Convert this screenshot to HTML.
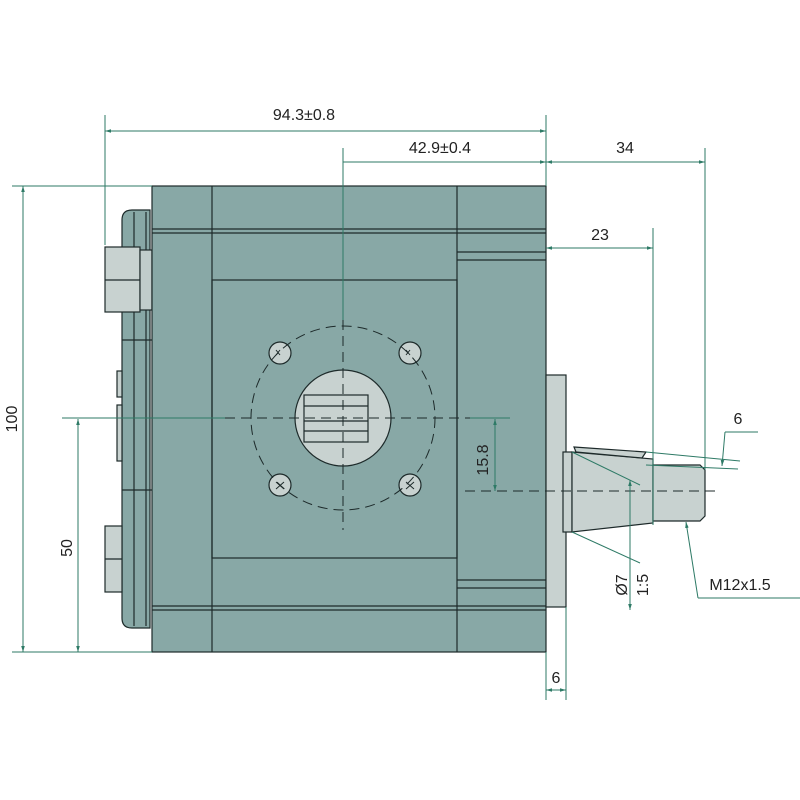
<!DOCTYPE html>
<html><head><style>body{margin:0;background:#fff}svg{display:block}text{font-family:"Liberation Sans",sans-serif;fill:#222}</style></head><body>
<svg width="800" height="800" viewBox="0 0 800 800" xmlns="http://www.w3.org/2000/svg">
<defs><marker id="a" viewBox="0 0 10 10" refX="10" refY="5" markerWidth="6" markerHeight="6" orient="auto-start-reverse"><path d="M0,2L10,5L0,8z" fill="#2e7a66"/></marker></defs>
<g stroke="#1d2a2a" stroke-width="1.2" fill="#88a8a6">
<!-- end cap -->
<path d="M132,210 H150 V628 H132 Q122,628 122,618 V220 Q122,210 132,210Z"/>
<line x1="134" y1="212" x2="134" y2="626"/><line x1="146" y1="212" x2="146" y2="626"/>
<line x1="122" y1="340" x2="152" y2="340"/><line x1="122" y1="490" x2="152" y2="490"/>
<rect x="105" y="247" width="35" height="65" fill="#c8d2d0"/><line x1="105" y1="280" x2="140" y2="280"/>
<rect x="140" y="250" width="12" height="60" fill="#c0cccb"/>
<rect x="105" y="526" width="17" height="66" fill="#c8d2d0"/><line x1="105" y1="559" x2="122" y2="559"/>
<rect x="117" y="371" width="5" height="26" fill="#c8d2d0"/><rect x="117" y="405" width="5" height="56" fill="#c8d2d0"/>
<!-- body -->
<rect x="152" y="186" width="394" height="466"/>
<line x1="212" y1="186" x2="212" y2="652"/><line x1="457" y1="186" x2="457" y2="652"/>
<line x1="152" y1="229" x2="546" y2="229"/><line x1="152" y1="233" x2="546" y2="233"/>
<line x1="152" y1="606" x2="546" y2="606"/><line x1="152" y1="610" x2="546" y2="610"/>
<rect x="212" y="280" width="245" height="278" fill="none"/>
<line x1="457" y1="252" x2="546" y2="252"/><line x1="457" y1="260" x2="546" y2="260"/>
<line x1="457" y1="580" x2="546" y2="580"/><line x1="457" y1="588" x2="546" y2="588"/>
<!-- flange & shaft -->
<rect x="546" y="375" width="20" height="232" fill="#c8d2d0"/>
<rect x="563" y="452" width="9" height="80" fill="#c8d2d0"/>
<path d="M572,452 L653,459 L653,523 L572,532Z" fill="#c8d2d0"/>
<path d="M574,447 L646,452 L642,458 L576,452Z" fill="#c8d2d0"/>
<path d="M653,465 H700 L705,470 V516 L700,521 H653Z" fill="#c8d2d0"/>
<!-- center features -->
<circle cx="343" cy="418" r="48" fill="#c8d2d0"/>
<rect x="304" y="395" width="64" height="47" fill="none"/><line x1="304" y1="406" x2="368" y2="406"/><line x1="304" y1="421" x2="368" y2="421"/><line x1="304" y1="431" x2="368" y2="431"/>
<circle cx="280" cy="353" r="11" fill="#c8d2d0"/><circle cx="410" cy="353" r="11" fill="#c8d2d0"/>
<circle cx="280" cy="485" r="11" fill="#c8d2d0"/><circle cx="410" cy="485" r="11" fill="#c8d2d0"/>
</g>
<g stroke="#1d2a2a" stroke-width="1" fill="none">
<circle cx="343" cy="418" r="92" stroke-dasharray="10,6"/>
<line x1="343" y1="320" x2="343" y2="530" stroke-dasharray="10,6"/>
<line x1="225" y1="418" x2="470" y2="418" stroke-dasharray="10,6"/>
<line x1="465" y1="491" x2="720" y2="491" stroke-dasharray="10,6"/>
<path d="M276,355l4,-5M276,350l4,5M406,355l4,-5M406,350l4,5M276,482l8,7M284,482l-8,7M406,482l8,7M414,482l-8,7"/>
</g>
<g stroke="#2e7a66" stroke-width="1" fill="none">
<line x1="105" y1="115" x2="105" y2="245"/><line x1="546" y1="115" x2="546" y2="186"/>
<line x1="105" y1="131" x2="546" y2="131" marker-start="url(#a)" marker-end="url(#a)"/>
<line x1="343" y1="148" x2="343" y2="320"/>
<line x1="343" y1="162" x2="546" y2="162" marker-end="url(#a)"/>
<line x1="546" y1="162" x2="705" y2="162" marker-start="url(#a)" marker-end="url(#a)"/>
<line x1="705" y1="148" x2="705" y2="470"/>
<line x1="546" y1="248" x2="653" y2="248" marker-start="url(#a)" marker-end="url(#a)"/>
<line x1="653" y1="228" x2="653" y2="525"/>
<line x1="12" y1="186" x2="152" y2="186"/><line x1="12" y1="652" x2="152" y2="652"/>
<line x1="23" y1="186" x2="23" y2="652" marker-start="url(#a)" marker-end="url(#a)"/>
<line x1="62" y1="418" x2="225" y2="418"/><line x1="470" y1="418" x2="510" y2="418"/>
<line x1="78" y1="419" x2="78" y2="652" marker-start="url(#a)" marker-end="url(#a)"/>
<line x1="495" y1="419" x2="495" y2="491" marker-start="url(#a)" marker-end="url(#a)"/>
<line x1="546" y1="652" x2="546" y2="700"/><line x1="566" y1="607" x2="566" y2="700"/>
<line x1="546" y1="690" x2="566" y2="690" marker-start="url(#a)" marker-end="url(#a)"/>
<line x1="572" y1="452" x2="640" y2="485"/><line x1="572" y1="532" x2="640" y2="563"/>
<line x1="630" y1="480" x2="630" y2="610" marker-start="url(#a)" marker-end="url(#a)"/>
<line x1="646" y1="452" x2="740" y2="461"/><line x1="646" y1="465" x2="738" y2="469"/>
<line x1="725" y1="432" x2="758" y2="432"/><line x1="725" y1="432" x2="722" y2="466" marker-end="url(#a)"/>
<line x1="686" y1="522" x2="698" y2="598" marker-start="url(#a)"/><line x1="698" y1="598" x2="800" y2="598"/>
</g>
<g font-size="16">
<text x="304" y="120" text-anchor="middle">94.3±0.8</text>
<text x="440" y="153" text-anchor="middle">42.9±0.4</text>
<text x="625" y="153" text-anchor="middle">34</text>
<text x="600" y="240" text-anchor="middle">23</text>
<text x="738" y="424" text-anchor="middle">6</text>
<text x="556" y="683" text-anchor="middle">6</text>
<text x="740" y="590" text-anchor="middle">M12x1.5</text>
<text transform="translate(17,419) rotate(-90)" text-anchor="middle">100</text>
<text transform="translate(72,548) rotate(-90)" text-anchor="middle">50</text>
<text transform="translate(488,460) rotate(-90)" text-anchor="middle">15.8</text>
<text transform="translate(627,585) rotate(-90)" text-anchor="middle">Ø7</text>
<text transform="translate(648,585) rotate(-90)" text-anchor="middle">1:5</text>
</g>
</svg>
</body></html>
